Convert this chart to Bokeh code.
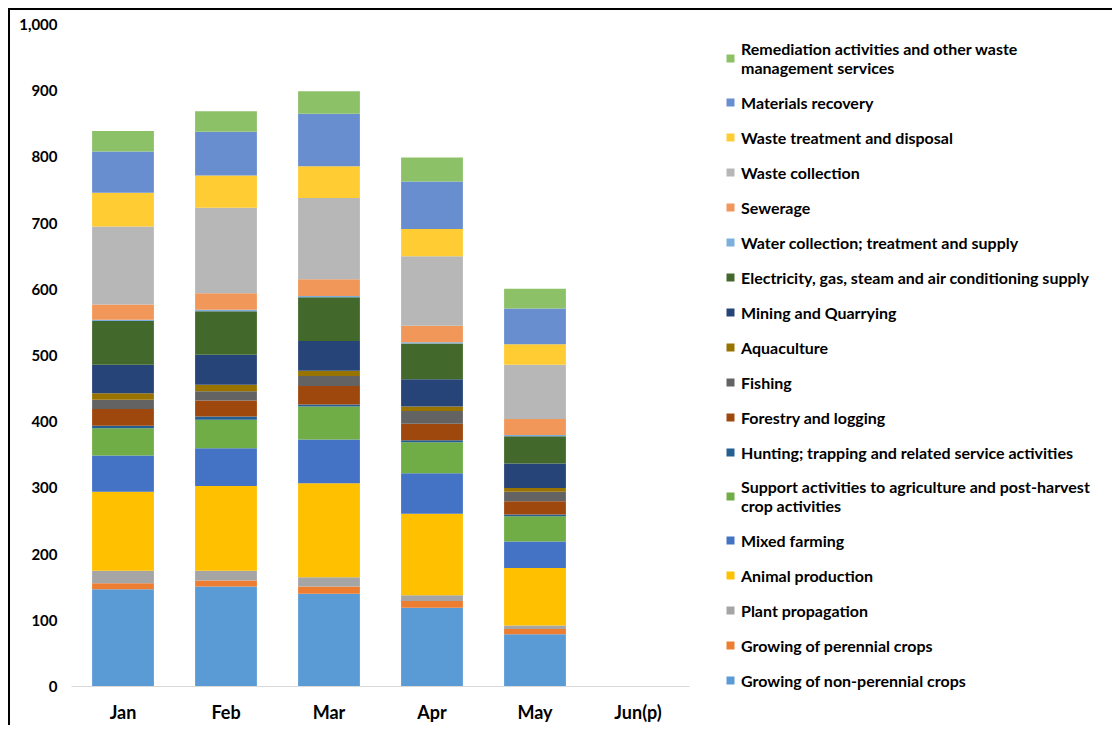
from bokeh.plotting import figure
from bokeh.models import Legend, LegendItem, NumeralTickFormatter, Range1d
from bokeh.embed import file_html
from bokeh.resources import INLINE

months = ["Jan", "Feb", "Mar", "Apr", "May", "Jun(p)"]

series_names = [
    "Growing of non-perennial crops",
    "Growing of perennial crops",
    "Plant propagation",
    "Animal production",
    "Mixed farming",
    "Support activities to agriculture and post-harvest\ncrop activities",
    "Hunting; trapping and related service activities",
    "Forestry and logging",
    "Fishing",
    "Aquaculture",
    "Mining and Quarrying",
    "Electricity, gas, steam and air conditioning supply",
    "Water collection; treatment and supply",
    "Sewerage",
    "Waste collection",
    "Waste treatment and disposal",
    "Materials recovery",
    "Remediation activities and other waste\nmanagement services",
]

colors = [
    "#5B9BD5", "#ED7D31", "#A5A5A5", "#FFC000", "#4472C4", "#70AD47",
    "#255E91", "#9E480E", "#636363", "#997300", "#264478", "#43682B",
    "#7CAFDD", "#F1975A", "#B7B7B7", "#FFCD33", "#698ED0", "#8CC168",
]

# values per series, months Jan..Jun(p)
non_perennial = [147, 151, 140, 119, 79, 0]
perennial = [9, 9, 11, 10, 8, 0]
plant_propagation = [19, 15, 14, 9, 5, 0]
animal_production = [119, 128, 142, 123, 87, 0]
mixed_farming = [55, 57, 66, 61, 40, 0]
support_activities = [41, 43, 50, 47, 38, 0]
hunting = [4, 5, 3, 3, 3, 0]
forestry = [25, 24, 28, 25, 20, 0]
fishing = [14, 14, 15, 19, 14, 0]
aquaculture = [10, 10, 8, 7, 6, 0]
mining = [43, 45, 45, 41, 37, 0]
electricity = [66, 66, 66, 54, 41, 0]
water = [2, 2, 2, 2, 2, 0]
sewerage = [23, 25, 25, 25, 24, 0]
waste_collection = [118, 129, 123, 105, 82, 0]
waste_treatment = [51, 49, 48, 41, 31, 0]
materials_recovery = [62, 66, 79, 72, 54, 0]
remediation = [31, 31, 34, 36, 30, 0]

series_values = [
    non_perennial, perennial, plant_propagation, animal_production, mixed_farming,
    support_activities, hunting, forestry, fishing, aquaculture, mining, electricity,
    water, sewerage, waste_collection, waste_treatment, materials_recovery, remediation,
]

keys = [f"s{i}" for i in range(len(series_names))]
data = {"month": months}
for k, v in zip(keys, series_values):
    data[k] = v

FONT = "Lato"

p = figure(
    x_range=months,
    y_range=Range1d(0, 1000),
    frame_width=618,
    frame_height=662,
    min_border_left=61,
    min_border_top=14,
    min_border_bottom=30,
    min_border_right=0,
    output_backend="svg",
    toolbar_location=None,
)
p.styles = {"margin-left": "8px", "margin-top": "8px",
            "border-left": "2px solid black", "border-top": "2px solid black"}

renderers = p.vbar_stack(keys, x="month", width=0.6, source=data, color=colors,
                         line_color=None)

p.xgrid.grid_line_color = None
p.ygrid.grid_line_color = None
p.outline_line_color = None

p.yaxis.formatter = NumeralTickFormatter(format="0,0")
p.yaxis.ticker = [0, 100, 200, 300, 400, 500, 600, 700, 800, 900, 1000]
p.yaxis.axis_line_color = None
p.yaxis.major_tick_line_color = None
p.yaxis.minor_tick_line_color = None
p.yaxis.major_label_text_font = FONT
p.yaxis.major_label_text_font_style = "bold"
p.yaxis.major_label_text_font_size = "15px"
p.yaxis.major_label_text_color = "#000000"
p.yaxis.major_label_standoff = 8

p.xaxis.axis_line_color = "#D9D9D9"
p.xaxis.axis_line_width = 1
p.xaxis.major_tick_line_color = None
p.xaxis.minor_tick_line_color = None
p.xaxis.major_label_text_font = FONT
p.xaxis.major_label_text_font_style = "bold"
p.xaxis.major_label_text_font_size = "18px"
p.xaxis.major_label_text_color = "#000000"
p.xaxis.major_label_standoff = 8
p.x_range.range_padding = 0.0

items = [LegendItem(label=series_names[i], renderers=[renderers[i]])
         for i in reversed(range(len(series_names)))]
legend = Legend(
    items=items,
    location=(36, -4),
    label_text_font=FONT,
    label_text_font_style="bold",
    label_text_font_size="16px",
    label_text_color="#000000",
    glyph_width=10,
    glyph_height=10,
    label_height=20,
    label_standoff=6,
    spacing=15,
    padding=2,
    margin=0,
    border_line_color=None,
    background_fill_alpha=0,
)
p.add_layout(legend, "right")

open("out.html", "w").write(file_html(p, INLINE))
